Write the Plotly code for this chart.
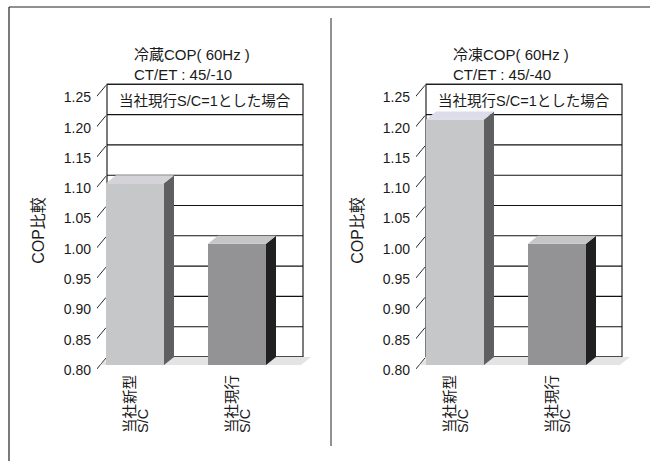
import plotly.graph_objects as go

# ---- data -------------------------------------------------------------
cat_line1 = ["当社新型", "当社現行"]
cat_line2 = ["S/C", "S/C"]
refrig_cop = [1.10, 1.00]      # 冷蔵 COP ratio
freeze_cop = [1.205, 1.00]     # 冷凍 COP ratio
panel_values = [refrig_cop, freeze_cop]
panel_titles = ["冷蔵COP( 60Hz )", "冷凍COP( 60Hz )"]
panel_conditions = ["CT/ET : 45/-10", "CT/ET : 45/-40"]
y_ticks = [0.80, 0.85, 0.90, 0.95, 1.00, 1.05, 1.10, 1.15, 1.20, 1.25]
y_tick_text = [f"{v:.2f}" for v in y_ticks]
note_text = "当社現行S/C=1とした場合"
y_title = "COP比較"

# ---- geometry (pixels) -------------------------------------------------
W, H = 650, 461
PX_PER_CAT = 102.0          # horizontal pixels per category step
PX_PER_VAL = 606.0          # vertical pixels per unit of COP ratio
Y_BASE_PX = 365.0           # pixel row of the front baseline
Y_MIN = y_ticks[0]
FRONT_LEFT_PX = [97, 416]   # front-left corner of each plot box
CAT0_PX = [135, 455]        # centre of first bar in each panel
DOMAIN_RIGHT_PX = [330, 650]
WALL_PX = 196               # wall width
BAR_PX = 58                 # bar front width

DX = 10 / PX_PER_CAT        # depth offset, x units
DY = 8 / PX_PER_VAL         # depth offset, y units
BAR_W = BAR_PX / PX_PER_CAT

y_lo = Y_MIN - (H - Y_BASE_PX) / PX_PER_VAL
y_hi = Y_MIN + Y_BASE_PX / PX_PER_VAL

FONT = "Liberation Sans, Arial, Noto Sans CJK JP, sans-serif"
TXT = "#1a1a1a"
LINE = "#111111"

front_cols = ["#c6c7c9", "#939396"]
side_cols = ["#5f5f61", "#221f20"]
top_cols = [["#d4d4d8", "#c6c6c6"], ["#dcdcea", "#c6c6c6"]]
FLOOR_COL = "#e4e4e4"

fig = go.Figure()
shapes = []
annotations = []
layout_axes = {}


def poly_path(pts):
    return "M " + " L ".join(f"{x},{y}" for x, y in pts) + " Z"


for p, vals in enumerate(panel_values):
    xa = "x" if p == 0 else f"x{p + 1}"
    ya = "y" if p == 0 else f"y{p + 1}"
    xkey = "xaxis" if p == 0 else f"xaxis{p + 1}"
    ykey = "yaxis" if p == 0 else f"yaxis{p + 1}"

    x_lo = (FRONT_LEFT_PX[p] - CAT0_PX[p]) / PX_PER_CAT
    x_hi = (DOMAIN_RIGHT_PX[p] - CAT0_PX[p]) / PX_PER_CAT
    layout_axes[xkey] = dict(
        domain=[FRONT_LEFT_PX[p] / W, DOMAIN_RIGHT_PX[p] / W],
        range=[x_lo, x_hi], anchor=ya, visible=False, fixedrange=True,
    )
    layout_axes[ykey] = dict(
        domain=[0, 1], range=[y_lo, y_hi], anchor=xa,
        tickmode="array", tickvals=y_ticks, ticktext=y_tick_text,
        showgrid=False, zeroline=False, showline=False, ticks="",
        ticklabelshift=5, ticklabelstandoff=5,
        tickfont=dict(family=FONT, size=14, color=TXT),
        title=dict(text=y_title, standoff=15,
                   font=dict(family=FONT, size=16, color=TXT)),
        fixedrange=True,
    )

    wl = x_lo
    wr = x_lo + WALL_PX / PX_PER_CAT
    y_top = y_ticks[-1]

    # back wall
    shapes.append(dict(type="rect", xref=xa, yref=ya, layer="below",
                       x0=wl + DX, x1=wr + DX, y0=Y_MIN + DY, y1=y_top + DY,
                       fillcolor="white", line=dict(color=LINE, width=1.1)))
    # back-wall gridlines and slanted tick connectors
    for v in y_ticks:
        shapes.append(dict(type="line", xref=xa, yref=ya, layer="below",
                           x0=wl + DX, x1=wr + DX, y0=v + DY, y1=v + DY,
                           line=dict(color=LINE, width=1.1)))
        shapes.append(dict(type="line", xref=xa, yref=ya, layer="below",
                           x0=wl - 1 / PX_PER_CAT, y0=v - 5 / PX_PER_VAL,
                           x1=wl + DX - 1 / PX_PER_CAT, y1=v + DY - 1 / PX_PER_VAL,
                           line=dict(color=LINE, width=0.9)))
    # floor
    fl = wl + 3 / PX_PER_CAT
    fr = wr + 8 / PX_PER_CAT
    shapes.append(dict(type="path", xref=xa, yref=ya, layer="below",
                       path=poly_path([(fl, Y_MIN), (fr, Y_MIN),
                                       (fr + DX, Y_MIN + DY), (fl + DX, Y_MIN + DY)]),
                       fillcolor=FLOOR_COL, line=dict(width=0)))

    # front faces of the bars
    xs = list(range(len(vals)))
    fig.add_trace(go.Bar(
        x=xs, y=[v - Y_MIN for v in vals], base=Y_MIN, width=BAR_W,
        marker=dict(color=front_cols, line=dict(width=0)),
        xaxis=xa, yaxis=ya, hoverinfo="skip", showlegend=False,
    ))
    # side and top faces
    for i, v in enumerate(vals):
        xl, xr = i - BAR_W / 2, i + BAR_W / 2
        side = [(xr, Y_MIN), (xr + DX, Y_MIN + DY), (xr + DX, v + DY), (xr, v), (xr, Y_MIN)]
        top = [(xl, v), (xr, v), (xr + DX, v + DY), (xl + DX, v + DY), (xl, v)]
        for pts, col in ((side, side_cols[i]), (top, top_cols[p][i])):
            fig.add_trace(go.Scatter(
                x=[a for a, _ in pts], y=[b for _, b in pts],
                mode="lines", fill="toself", fillcolor=col,
                line=dict(width=0, color=col), xaxis=xa, yaxis=ya,
                hoverinfo="skip", showlegend=False,
            ))
        # category labels, rotated
        annotations.append(dict(xref=xa, yref=ya, x=i, y=Y_MIN, text=cat_line1[i],
                                textangle=-90, showarrow=False, xanchor="center",
                                yanchor="bottom", xshift=-5, yshift=-70,
                                font=dict(family=FONT, size=14.5, color=TXT)))
        annotations.append(dict(xref=xa, yref=ya, x=i, y=Y_MIN, text=cat_line2[i],
                                textangle=-90, showarrow=False, xanchor="center",
                                yanchor="bottom", xshift=8, yshift=-70,
                                font=dict(family=FONT, size=14.5, color=TXT)))

    # note inside the top band of the wall
    annotations.append(dict(xref=xa, yref=ya, x=(wl + wr) / 2 + DX,
                            y=(y_ticks[-1] + y_ticks[-2]) / 2 + DY, yshift=-2,
                            text=note_text, showarrow=False,
                            font=dict(family=FONT, size=14.5, color=TXT)))

    # panel title (two lines)
    title_x = (FRONT_LEFT_PX[p] + 35) / W
    annotations.append(dict(xref="paper", yref="paper", x=title_x, y=1 - 65 / H,
                            xanchor="left", yanchor="middle", align="left",
                            showarrow=False,
                            text=panel_titles[p] + "<br>" + panel_conditions[p],
                            font=dict(family=FONT, size=15, color=TXT)))

# outer frame and the divider between the panels
shapes.append(dict(type="line", xref="paper", yref="paper",
                   x0=9 / W, x1=1, y0=1 - 7 / H, y1=1 - 7 / H,
                   line=dict(color="#222", width=1.2)))
shapes.append(dict(type="line", xref="paper", yref="paper",
                   x0=9 / W, x1=9 / W, y0=1 - 7 / H, y1=0,
                   line=dict(color="#222", width=1.2)))
shapes.append(dict(type="line", xref="paper", yref="paper",
                   x0=331 / W, x1=331 / W, y0=1 - 18 / H, y1=1 - 446 / H,
                   line=dict(color="#222", width=1)))

fig.update_layout(
    width=W, height=H, margin=dict(l=0, r=0, t=0, b=0, pad=0),
    paper_bgcolor="white", plot_bgcolor="rgba(0,0,0,0)",
    barmode="overlay", showlegend=False,
    shapes=shapes, annotations=annotations,
    font=dict(family=FONT, color=TXT),
    **layout_axes,
)

fig.write_html("out.html")
